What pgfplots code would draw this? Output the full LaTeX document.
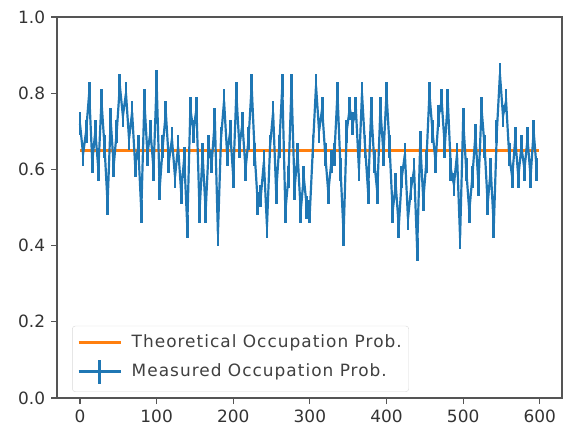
\documentclass[border=0pt]{standalone}
\usepackage{pgfplots}
\pgfplotsset{compat=1.18}
\usepackage{pgfplotstable}
\usepackage{fontspec}
\setmainfont{DejaVu Sans}
\newfontfamily\legfont[LetterSpace=6]{DejaVu Sans}
\definecolor{mplblue}{HTML}{1F77B4}
\definecolor{mplorange}{HTML}{FF7F0E}
\definecolor{spine}{HTML}{555555}
\pgfplotstableread{
x y
0 0.72
4 0.64
8 0.70
12 0.80
16 0.62
20 0.70
24 0.60
28 0.78
32 0.66
36 0.51
40 0.73
44 0.61
48 0.70
52 0.82
56 0.74
60 0.80
64 0.68
68 0.75
72 0.61
76 0.66
80 0.49
84 0.78
88 0.64
92 0.70
96 0.60
100 0.83
104 0.55
108 0.66
112 0.75
116 0.62
120 0.68
124 0.58
128 0.66
132 0.54
136 0.63
140 0.45
144 0.76
148 0.70
152 0.76
156 0.49
160 0.64
164 0.49
168 0.66
172 0.62
176 0.73
180 0.43
184 0.68
188 0.78
192 0.64
196 0.70
200 0.58
204 0.80
208 0.66
212 0.72
216 0.60
220 0.68
224 0.82
228 0.64
232 0.51
236 0.53
240 0.62
244 0.45
248 0.66
252 0.75
256 0.54
260 0.66
264 0.82
268 0.49
272 0.58
276 0.82
280 0.55
284 0.64
288 0.49
292 0.58
296 0.50
300 0.49
304 0.66
308 0.82
312 0.70
316 0.76
320 0.64
324 0.54
328 0.62
332 0.64
336 0.80
340 0.60
344 0.43
348 0.70
352 0.76
356 0.72
360 0.76
364 0.60
368 0.80
372 0.66
376 0.54
380 0.76
384 0.62
388 0.54
392 0.76
396 0.64
400 0.80
404 0.66
408 0.49
412 0.56
416 0.45
420 0.58
424 0.64
428 0.47
432 0.55
436 0.60
440 0.39
444 0.67
448 0.52
452 0.62
456 0.80
460 0.70
464 0.62
468 0.74
472 0.78
476 0.66
480 0.78
484 0.60
488 0.56
492 0.64
496 0.42
500 0.73
504 0.60
508 0.49
512 0.58
516 0.69
520 0.56
524 0.76
528 0.66
532 0.51
536 0.60
540 0.45
544 0.70
548 0.85
552 0.74
556 0.78
560 0.64
564 0.58
568 0.68
572 0.58
576 0.66
580 0.60
584 0.68
588 0.58
592 0.70
596 0.60
}\measured
\pgfplotstableread{
x y
0 0.65
599 0.65
}\theory
\begin{document}
\fontsize{17}{20}\selectfont
\begin{tikzpicture}
\begin{axis}[
  scale only axis,
  width=505bp, height=381bp,
  xmin=-30, xmax=629, ymin=0, ymax=1,
  xtick={0,100,...,600},
  ytick={0,0.2,...,1.0},
  yticklabel style={/pgf/number format/.cd,fixed,fixed zerofill,precision=1},
  /pgf/number format/assume math mode=true,
  tick align=outside,
  xtick pos=bottom, ytick pos=left,
  major tick length=6bp,
  tick style={spine, line width=1.2pt},
  axis line style={spine, line width=1.3pt},
  tick label style={font=\fontsize{17}{20}\selectfont, text=black!80},
  legend style={at={(0.03,0.016)}, anchor=south west, draw=black!15, rounded corners=3pt,
    font=\legfont\fontsize{17}{20}\selectfont, text=black!75, inner xsep=5pt, inner ysep=7pt,
    row sep=6pt, column sep=8bp, fill=white, fill opacity=0.8, text opacity=1},
  legend cell align=left,
]
\addplot[mplorange, line width=2.4pt,
  legend image code/.code={\draw[mplorange, line width=2.4pt] (0bp,0bp) -- (42bp,0bp);}]
  table[x=x,y=y] {\theory};
\addlegendentry{Theoretical Occupation Prob.}
\addplot[mplblue, line width=2.2pt, mark=none,
  error bars/.cd, y dir=both, y fixed=0.03, error mark=none,
  error bar style={mplblue, line width=2.8pt},
  /pgfplots/legend image code/.code={\draw[mplblue, line width=2.4pt] (0bp,0bp) -- (42bp,0bp);
  \draw[mplblue, line width=2.4pt] (21bp,-12bp) -- (21bp,12bp);}]
  table[x=x,y=y] {\measured};
\addlegendentry{Measured Occupation Prob.}
\end{axis}
\useasboundingbox (current axis.south west) ++(-57bp,-39bp) rectangle ([shift={(4bp,17bp)}]current axis.north east);
\end{tikzpicture}
\end{document}
